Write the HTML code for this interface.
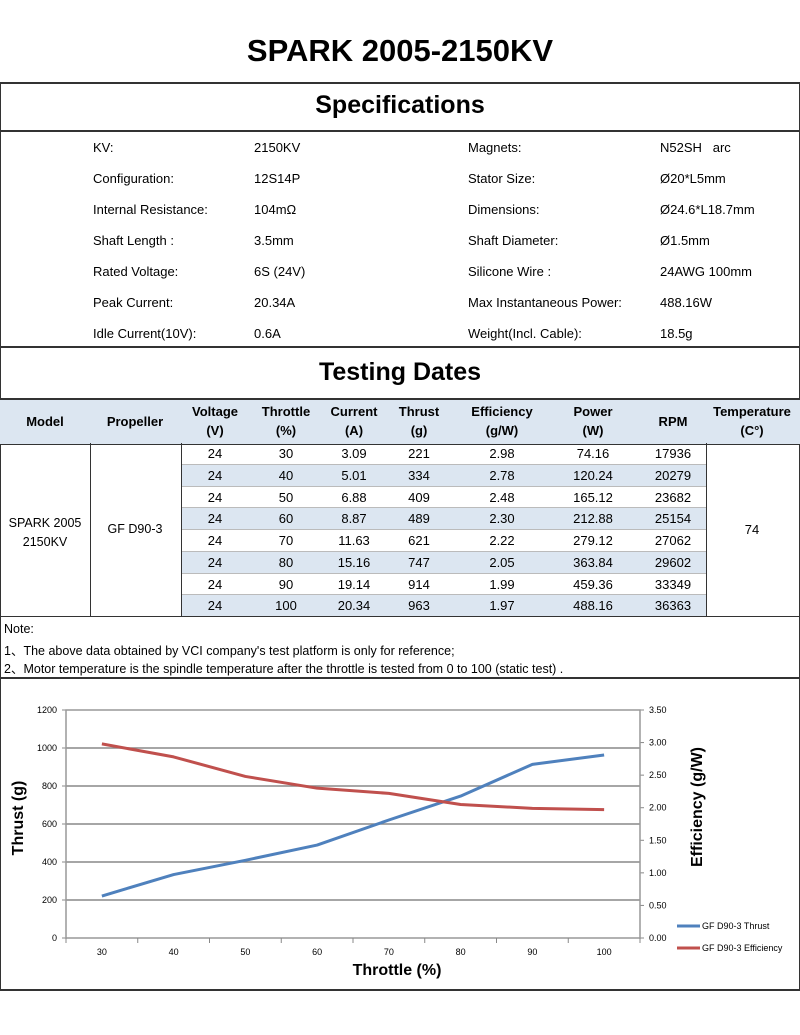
<!DOCTYPE html>
<html><head><meta charset="utf-8"><style>
body{margin:0;width:800px;height:1035px;background:#fff;font-family:"Liberation Sans",sans-serif;color:#000;position:relative;overflow:hidden}
.abs{position:absolute}
.t{position:absolute;white-space:nowrap;font-size:13px}
.c{transform:translateX(-50%);text-align:center}
.hl{position:absolute;left:0;width:800px;height:2px;background:#333}
</style></head><body>
<div class="t c" style="left:400px;top:33px;font-weight:bold;font-size:31px">SPARK 2005-2150KV</div>
<div class="abs" style="left:0;top:82px;width:798px;height:905px;border:1px solid #333;border-width:2px 1px 2px 1px"></div>
<div class="t c" style="left:400px;top:91px;font-weight:bold;font-size:25px">Specifications</div>
<div class="hl" style="top:130px"></div>
<div>
<div class="t" style="left:93px;top:140px">KV:</div><div class="t" style="left:254px;top:140px">2150KV</div><div class="t" style="left:468px;top:140px">Magnets:</div><div class="t" style="left:660px;top:140px">N52SH &nbsp; arc</div>
<div class="t" style="left:93px;top:171px">Configuration:</div><div class="t" style="left:254px;top:171px">12S14P</div><div class="t" style="left:468px;top:171px">Stator Size:</div><div class="t" style="left:660px;top:171px">Ø20*L5mm</div>
<div class="t" style="left:93px;top:202px">Internal Resistance:</div><div class="t" style="left:254px;top:202px">104mΩ</div><div class="t" style="left:468px;top:202px">Dimensions:</div><div class="t" style="left:660px;top:202px">Ø24.6*L18.7mm</div>
<div class="t" style="left:93px;top:233px">Shaft Length :</div><div class="t" style="left:254px;top:233px">3.5mm</div><div class="t" style="left:468px;top:233px">Shaft Diameter:</div><div class="t" style="left:660px;top:233px">Ø1.5mm</div>
<div class="t" style="left:93px;top:264px">Rated Voltage:</div><div class="t" style="left:254px;top:264px">6S (24V)</div><div class="t" style="left:468px;top:264px">Silicone Wire :</div><div class="t" style="left:660px;top:264px">24AWG 100mm</div>
<div class="t" style="left:93px;top:295px">Peak Current:</div><div class="t" style="left:254px;top:295px">20.34A</div><div class="t" style="left:468px;top:295px">Max Instantaneous Power:</div><div class="t" style="left:660px;top:295px">488.16W</div>
<div class="t" style="left:93px;top:326px">Idle Current(10V):</div><div class="t" style="left:254px;top:326px">0.6A</div><div class="t" style="left:468px;top:326px">Weight(Incl. Cable):</div><div class="t" style="left:660px;top:326px">18.5g</div>
</div>
<div class="hl" style="top:346px"></div>
<div class="t c" style="left:400px;top:358px;font-weight:bold;font-size:25px">Testing Dates</div>
<div class="abs" style="left:0;top:398px;width:800px;height:44px;background:#dce6f1;border-top:2px solid #333;border-bottom:1px solid #333"></div>
<div id="tbl"></div>
<div class="hl" style="top:616px;height:1px"></div>
<div>
<div class="t" style="left:4px;top:622px;font-size:12.5px">Note:</div>
<div class="t" style="left:4px;top:640px;font-size:12.5px">1、The above data obtained by VCI company's test platform is only for reference;</div>
<div class="t" style="left:4px;top:658px;font-size:12.5px">2、Motor temperature is the spindle temperature after the throttle is tested from 0 to 100 (static test) .</div>
</div>
<div class="hl" style="top:677px"></div>
<svg id="chart" class="abs" style="left:0;top:0" width="800" height="1035"></svg>
<script>
const throttle=[30,40,50,60,70,80,90,100];
const current=["3.09","5.01","6.88","8.87","11.63","15.16","19.14","20.34"];
const thrust=[221,334,409,489,621,747,914,963];
const efficiency=[2.98,2.78,2.48,2.30,2.22,2.05,1.99,1.97];
const power=["74.16","120.24","165.12","212.88","279.12","363.84","459.36","488.16"];
const rpm=[17936,20279,23682,25154,27062,29602,33349,36363];
const leftTicks=[0,200,400,600,800,1000,1200];
const rightTicks=["0.00","0.50","1.00","1.50","2.00","2.50","3.00","3.50"];

const tbl=document.getElementById('tbl');
function txt(html,x,y,st){const d=document.createElement('div');d.className='t c';d.style.left=x+'px';d.style.top=y+'px';if(st)d.style.cssText+=st;d.innerHTML=html;tbl.appendChild(d);return d;}
const hdr=[["Model",45],["Propeller",135],["Voltage<br>(V)",215],["Throttle<br>(%)",286],["Current<br>(A)",354],["Thrust<br>(g)",419],["Efficiency<br>(g/W)",502],["Power<br>(W)",593],["RPM",673],["Temperature<br>(C°)",752]];
hdr.forEach(h=>{const one=!h[0].includes('<br>');const d=txt(h[0],h[1],one?412:402,'font-weight:bold;line-height:19px;font-size:13px');

});
const rowH=21.75,top0=443;
for(let i=0;i<throttle.length;i++){
 const y=top0+i*rowH;
 if(i%2==1){const b=document.createElement('div');b.className='abs';b.style.cssText=`left:181px;top:${y}px;width:525px;height:${rowH}px;background:#dce6f1`;tbl.appendChild(b);}
 const l=document.createElement('div');l.className='abs';l.style.cssText=`left:181px;top:${y+rowH-1}px;width:525px;height:1px;background:#bbb`;tbl.appendChild(l);
 const vals=["24",throttle[i],current[i],thrust[i],efficiency[i].toFixed(2),power[i],rpm[i]];
 const xs=[215,286,354,419,502,593,673];
 vals.forEach((v,k)=>{const d=txt(v,xs[k],y+3,'font-size:13px');
 
 });
}
[90,181,706].forEach(x=>{const v=document.createElement('div');v.className='abs';v.style.cssText=`left:${x}px;top:443px;width:1px;height:174px;background:#333`;tbl.appendChild(v);});
txt("SPARK 2005<br>2150KV",45,514,'font-size:12.5px;line-height:19px');
txt("GF D90-3",135,522,'font-size:12.5px');
txt("74",752,522,'font-size:13px');

const svg=document.getElementById('chart');const NS='http://www.w3.org/2000/svg';
function el(t,a,p){const e=document.createElementNS(NS,t);for(const k in a)e.setAttribute(k,a[k]);(p||svg).appendChild(e);return e;}
const L=66,R=640,T=710,B=938;
const x=v=>L+(throttle.indexOf(v)+0.5)*(R-L)/throttle.length;
const yl=v=>B-(v/1200)*(B-T);
const yr=v=>B-(v/3.5)*(B-T);
leftTicks.forEach(t=>{if(t>0&&t<1200){const g=el('line',{x1:L,x2:R,y1:yl(t),y2:yl(t),stroke:'#888','stroke-width':1.5});

}
const tx=el('text',{x:L-9,y:yl(t)+3,'text-anchor':'end','font-size':9,'font-family':'Liberation Sans, sans-serif'});tx.textContent=t;


el('line',{x1:L-4,x2:L,y1:yl(t),y2:yl(t),stroke:'#888'});});
rightTicks.forEach(t=>{const v=parseFloat(t);
const tx=el('text',{x:R+9,y:yr(v)+3,'font-size':9,'font-family':'Liberation Sans, sans-serif'});tx.textContent=t;


el('line',{x1:R,x2:R+4,y1:yr(v),y2:yr(v),stroke:'#888'});});
el('rect',{x:L,y:T,width:R-L,height:B-T,fill:'none',stroke:'#999','stroke-width':1.5});
for(let i=0;i<=throttle.length;i++){const xx=L+i*(R-L)/throttle.length;el('line',{x1:xx,x2:xx,y1:B,y2:B+5,stroke:'#888'});}
throttle.forEach(v=>{const tx=el('text',{x:x(v),y:B+17,'text-anchor':'middle','font-size':9,'font-family':'Liberation Sans, sans-serif'});tx.textContent=v;

});
const p1=el('polyline',{points:throttle.map((v,i)=>x(v)+','+yl(thrust[i])).join(' '),fill:'none',stroke:'#4f81bd','stroke-width':3,'stroke-linejoin':'round'});


const p2=el('polyline',{points:throttle.map((v,i)=>x(v)+','+yr(efficiency[i])).join(' '),fill:'none',stroke:'#c0504d','stroke-width':3,'stroke-linejoin':'round'});


const xt=el('text',{x:397,y:975,'text-anchor':'middle','font-size':16,'font-weight':'bold','font-family':'Liberation Sans, sans-serif'});xt.textContent='Throttle (%)';


const ylt=el('text',{x:0,y:0,'text-anchor':'middle','font-size':16,'font-weight':'bold','font-family':'Liberation Sans, sans-serif',transform:'translate(23,818) rotate(-90)'});ylt.textContent='Thrust (g)';


const yrt=el('text',{x:0,y:0,'text-anchor':'middle','font-size':16,'font-weight':'bold','font-family':'Liberation Sans, sans-serif',transform:'translate(702,807) rotate(-90)'});yrt.textContent='Efficiency (g/W)';


[['GF D90-3 Thrust','#4f81bd',926],['GF D90-3 Efficiency','#c0504d',948]].forEach(l=>{
const g=el('g',{});


el('line',{x1:677,x2:700,y1:l[2],y2:l[2],stroke:l[1],'stroke-width':3},g);
const t=el('text',{x:702,y:l[2]+3,'font-size':9,'font-family':'Liberation Sans, sans-serif'},g);t.textContent=l[0];});
</script>
</body></html>
